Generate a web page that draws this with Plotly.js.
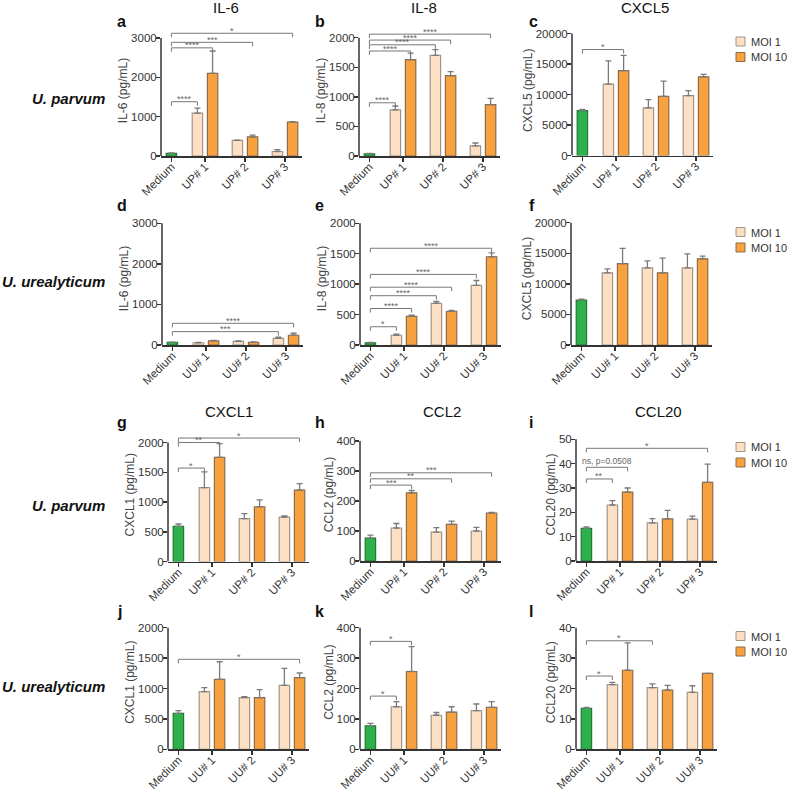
<!DOCTYPE html>
<html>
<head>
<meta charset="utf-8">
<script src="https://cdn.plot.ly/plotly-3.0.1.min.js"></script>
<style>
  html, body { margin: 0; padding: 0; background: #ffffff; }
  #chart { width: 788px; height: 792px; }
</style>
</head>
<body>
<div id="chart"></div>
<script>
// ---- group labels ----
const upGroups = ['Medium', 'UP# 1', 'UP# 2', 'UP# 3'];
const uuGroups = ['Medium', 'UU# 1', 'UU# 2', 'UU# 3'];
const moiNames = ['MOI 1', 'MOI 10'];

// ---- y tick values ----
const il6Ticks   = [0, 1000, 2000, 3000];
const il8Ticks   = [0, 500, 1000, 1500, 2000];
const cxcl5Ticks = [0, 5000, 10000, 15000, 20000];
const cxcl1Ticks = [0, 500, 1000, 1500, 2000];
const ccl2Ticks  = [0, 100, 200, 300, 400];
const ccl20UpTicks = [0, 10, 20, 30, 40, 50];
const ccl20UuTicks = [0, 10, 20, 30, 40];

// ---- values (pg/mL): medium [mean, sem]; strains #1..#3 mean and sem ----
// IL-6, U. parvum
const il6UpMedium = [68, 12];
const il6UpMoi1 = [1090, 395, 115];
const il6UpMoi1Err = [125, 8, 45];
const il6UpMoi10 = [2100, 485, 860];
const il6UpMoi10Err = [570, 45, 12];
// IL-8, U. parvum
const il8UpMedium = [38, 8];
const il8UpMoi1 = [780, 1700, 170];
const il8UpMoi1Err = [65, 100, 50];
const il8UpMoi10 = [1630, 1360, 870];
const il8UpMoi10Err = [110, 65, 105];
// CXCL5, U. parvum
const cxcl5UpMedium = [7350, 200];
const cxcl5UpMoi1 = [11700, 7800, 9800];
const cxcl5UpMoi1Err = [3800, 1350, 850];
const cxcl5UpMoi10 = [13900, 9700, 12900];
const cxcl5UpMoi10Err = [2500, 2500, 400];
// IL-6, U. urealyticum
const il6UuMedium = [65, 8];
const il6UuMoi1 = [55, 90, 165];
const il6UuMoi1Err = [8, 12, 30];
const il6UuMoi10 = [100, 65, 240];
const il6UuMoi10Err = [15, 10, 50];
// IL-8, U. urealyticum
const il8UuMedium = [35, 6];
const il8UuMoi1 = [160, 685, 980];
const il8UuMoi1Err = [18, 30, 80];
const il8UuMoi10 = [470, 555, 1450];
const il8UuMoi10Err = [20, 12, 65];
// CXCL5, U. urealyticum
const cxcl5UuMedium = [7350, 150];
const cxcl5UuMoi1 = [11800, 12600, 12600];
const cxcl5UuMoi1Err = [650, 1150, 2300];
const cxcl5UuMoi10 = [13300, 11800, 14100];
const cxcl5UuMoi10Err = [2500, 2400, 450];
// CXCL1, U. parvum
const cxcl1UpMedium = [590, 40];
const cxcl1UpMoi1 = [1240, 720, 745];
const cxcl1UpMoi1Err = [265, 85, 20];
const cxcl1UpMoi10 = [1750, 920, 1200];
const cxcl1UpMoi10Err = [230, 115, 110];
// CCL2, U. parvum
const ccl2UpMedium = [76, 10];
const ccl2UpMoi1 = [110, 96, 100];
const ccl2UpMoi1Err = [15, 15, 12];
const ccl2UpMoi10 = [227, 122, 160];
const ccl2UpMoi10Err = [8, 11, 2];
// CCL20, U. parvum
const ccl20UpMedium = [13.4, 0.6];
const ccl20UpMoi1 = [23, 15.7, 17.2];
const ccl20UpMoi1Err = [1.8, 1.7, 1.2];
const ccl20UpMoi10 = [28.3, 17.3, 32.3];
const ccl20UpMoi10Err = [1.7, 3.5, 7.5];
// CXCL1, U. urealyticum
const cxcl1UuMedium = [590, 45];
const cxcl1UuMoi1 = [950, 850, 1050];
const cxcl1UuMoi1Err = [65, 15, 280];
const cxcl1UuMoi10 = [1150, 850, 1180];
const cxcl1UuMoi10Err = [290, 130, 75];
// CCL2, U. urealyticum
const ccl2UuMedium = [77, 8];
const ccl2UuMoi1 = [140, 112, 127];
const ccl2UuMoi1Err = [17, 9, 22];
const ccl2UuMoi10 = [256, 122, 138];
const ccl2UuMoi10Err = [82, 18, 19];
// CCL20, U. urealyticum
const ccl20UuMedium = [13.5, 0.3];
const ccl20UuMoi1 = [21.3, 20.3, 18.7];
const ccl20UuMoi1Err = [0.7, 1.2, 2.2];
const ccl20UuMoi10 = [26, 19.5, 25];
const ccl20UuMoi10Err = [9, 1.5, 0];

// ---- significance vs Medium: target strain, target MOI, bracket height, label ----
const il6UpSigStrain = [1, 1, 2, 3];
const il6UpSigMoi = [1, 10, 10, 10];
const il6UpSigLevel = [1380, 2750, 2890, 3120];
const il6UpSigText = ['****', '****', '***', '*'];

const il8UpSigStrain = [1, 1, 2, 2, 3];
const il8UpSigMoi = [1, 10, 1, 10, 10];
const il8UpSigLevel = [900, 1775, 1880, 1960, 2060];
const il8UpSigText = ['****', '****', '****', '****', '****'];

const cxcl5UpSigStrain = [1];
const cxcl5UpSigMoi = [10];
const cxcl5UpSigLevel = [17370];
const cxcl5UpSigText = ['*'];

const il6UuSigStrain = [3, 3];
const il6UuSigMoi = [1, 10];
const il6UuSigLevel = [330, 535];
const il6UuSigText = ['***', '****'];

const il8UuSigStrain = [1, 1, 2, 2, 3, 3];
const il8UuSigMoi = [1, 10, 1, 10, 1, 10];
const il8UuSigLevel = [300, 600, 810, 950, 1160, 1590];
const il8UuSigText = ['*', '****', '****', '****', '****', '****'];

const cxcl1UpSigStrain = [1, 1, 3];
const cxcl1UpSigMoi = [1, 10, 10];
const cxcl1UpSigLevel = [1570, 2000, 2075];
const cxcl1UpSigText = ['*', '**', '*'];

const ccl2UpSigStrain = [1, 2, 3];
const ccl2UpSigMoi = [10, 10, 10];
const ccl2UpSigLevel = [253, 274, 294];
const ccl2UpSigText = ['***', '**', '***'];

const ccl20UpSigStrain = [1, 1, 3];
const ccl20UpSigMoi = [1, 10, 10];
const ccl20UpSigLevel = [33.7, 38.5, 46.3];
const ccl20UpSigText = ['**', 'ns, p=0.0508', '*'];

const cxcl1UuSigStrain = [3];
const cxcl1UuSigMoi = [10];
const cxcl1UuSigLevel = [1480];
const cxcl1UuSigText = ['*'];

const ccl2UuSigStrain = [1, 1];
const ccl2UuSigMoi = [1, 10];
const ccl2UuSigLevel = [175, 355];
const ccl2UuSigText = ['*', '*'];

const ccl20UuSigStrain = [1, 2];
const ccl20UuSigMoi = [1, 1];
const ccl20UuSigLevel = [24.1, 35.7];
const ccl20UuSigText = ['*', '*'];

const none = [];

// ---- styling ----
const W = 788, H = 792;
const FONT = 'Liberation Sans, Arial, Helvetica, sans-serif';
const INK = '#333333';
const GREEN = '#2eb04b', GREEN_LINE = '#1e7a34';
const PEACH = '#fde0c3', PEACH_LINE = '#a39486';
const ORANGE = '#f7a13f', ORANGE_LINE = '#8d6a48';
const ERR = '#7a7a7a', BRACKET = '#777777';

// category positions along each x axis (Medium sits closer to strain #1)
const catPos = [0.16, 1, 2, 3];
const pairOffset = 0.19;
const barW = 0.26;
const xRange = [-0.1, 3.42];
const PLOT_W = 140.8;

// panel frame geometry in pixels: y-axis x, zero line y, top tick y, top of plotting area
const panels = [
  {letter: 'a', yTitle: 'IL-6 (pg/mL)', groups: upGroups, ticks: il6Ticks,
   med: il6UpMedium, m1: il6UpMoi1, m1e: il6UpMoi1Err, m10: il6UpMoi10, m10e: il6UpMoi10Err,
   sig: [il6UpSigStrain, il6UpSigMoi, il6UpSigLevel, il6UpSigText],
   left: 161, zero: 156, topTick: 38, top: 25},
  {letter: 'b', yTitle: 'IL-8 (pg/mL)', groups: upGroups, ticks: il8Ticks,
   med: il8UpMedium, m1: il8UpMoi1, m1e: il8UpMoi1Err, m10: il8UpMoi10, m10e: il8UpMoi10Err,
   sig: [il8UpSigStrain, il8UpSigMoi, il8UpSigLevel, il8UpSigText],
   left: 359, zero: 156, topTick: 37.7, top: 25},
  {letter: 'c', yTitle: 'CXCL5 (pg/mL)', groups: upGroups, ticks: cxcl5Ticks,
   med: cxcl5UpMedium, m1: cxcl5UpMoi1, m1e: cxcl5UpMoi1Err, m10: cxcl5UpMoi10, m10e: cxcl5UpMoi10Err,
   sig: [cxcl5UpSigStrain, cxcl5UpSigMoi, cxcl5UpSigLevel, cxcl5UpSigText],
   left: 572, zero: 155.5, topTick: 33.5, top: 25, legendY: 41.5},
  {letter: 'd', yTitle: 'IL-6 (pg/mL)', groups: uuGroups, ticks: il6Ticks,
   med: il6UuMedium, m1: il6UuMoi1, m1e: il6UuMoi1Err, m10: il6UuMoi10, m10e: il6UuMoi10Err,
   sig: [il6UuSigStrain, il6UuSigMoi, il6UuSigLevel, il6UuSigText],
   left: 162, zero: 345, topTick: 223.3, top: 212},
  {letter: 'e', yTitle: 'IL-8 (pg/mL)', groups: uuGroups, ticks: il8Ticks,
   med: il8UuMedium, m1: il8UuMoi1, m1e: il8UuMoi1Err, m10: il8UuMoi10, m10e: il8UuMoi10Err,
   sig: [il8UuSigStrain, il8UuSigMoi, il8UuSigLevel, il8UuSigText],
   left: 360, zero: 345, topTick: 223.3, top: 212},
  {letter: 'f', yTitle: 'CXCL5 (pg/mL)', groups: uuGroups, ticks: cxcl5Ticks,
   med: cxcl5UuMedium, m1: cxcl5UuMoi1, m1e: cxcl5UuMoi1Err, m10: cxcl5UuMoi10, m10e: cxcl5UuMoi10Err,
   sig: [none, none, none, none],
   left: 571, zero: 345, topTick: 222.7, top: 212, legendY: 232},
  {letter: 'g', yTitle: 'CXCL1 (pg/mL)', groups: upGroups, ticks: cxcl1Ticks,
   med: cxcl1UpMedium, m1: cxcl1UpMoi1, m1e: cxcl1UpMoi1Err, m10: cxcl1UpMoi10, m10e: cxcl1UpMoi10Err,
   sig: [cxcl1UpSigStrain, cxcl1UpSigMoi, cxcl1UpSigLevel, cxcl1UpSigText],
   left: 168, zero: 561.5, topTick: 442.5, top: 428},
  {letter: 'h', yTitle: 'CCL2 (pg/mL)', groups: upGroups, ticks: ccl2Ticks,
   med: ccl2UpMedium, m1: ccl2UpMoi1, m1e: ccl2UpMoi1Err, m10: ccl2UpMoi10, m10e: ccl2UpMoi10Err,
   sig: [ccl2UpSigStrain, ccl2UpSigMoi, ccl2UpSigLevel, ccl2UpSigText],
   left: 360, zero: 561, topTick: 441, top: 428},
  {letter: 'i', yTitle: 'CCL20 (pg/mL)', groups: upGroups, ticks: ccl20UpTicks,
   med: ccl20UpMedium, m1: ccl20UpMoi1, m1e: ccl20UpMoi1Err, m10: ccl20UpMoi10, m10e: ccl20UpMoi10Err,
   sig: [ccl20UpSigStrain, ccl20UpSigMoi, ccl20UpSigLevel, ccl20UpSigText],
   left: 576, zero: 561, topTick: 439.3, top: 428, legendY: 447},
  {letter: 'j', yTitle: 'CXCL1 (pg/mL)', groups: uuGroups, ticks: cxcl1Ticks,
   med: cxcl1UuMedium, m1: cxcl1UuMoi1, m1e: cxcl1UuMoi1Err, m10: cxcl1UuMoi10, m10e: cxcl1UuMoi10Err,
   sig: [cxcl1UuSigStrain, cxcl1UuSigMoi, cxcl1UuSigLevel, cxcl1UuSigText],
   left: 168, zero: 749.3, topTick: 627.7, top: 615},
  {letter: 'k', yTitle: 'CCL2 (pg/mL)', groups: uuGroups, ticks: ccl2Ticks,
   med: ccl2UuMedium, m1: ccl2UuMoi1, m1e: ccl2UuMoi1Err, m10: ccl2UuMoi10, m10e: ccl2UuMoi10Err,
   sig: [ccl2UuSigStrain, ccl2UuSigMoi, ccl2UuSigLevel, ccl2UuSigText],
   left: 360, zero: 749.3, topTick: 627.7, top: 615},
  {letter: 'l', yTitle: 'CCL20 (pg/mL)', groups: uuGroups, ticks: ccl20UuTicks,
   med: ccl20UuMedium, m1: ccl20UuMoi1, m1e: ccl20UuMoi1Err, m10: ccl20UuMoi10, m10e: ccl20UuMoi10Err,
   sig: [ccl20UuSigStrain, ccl20UuSigMoi, ccl20UuSigLevel, ccl20UuSigText],
   left: 576, zero: 749.3, topTick: 627.7, top: 615, legendY: 636}
];

// panel titles (column headers for rows 1 and 3)
const headers = [
  {text: 'IL-6', x: 226, y: 7.5}, {text: 'IL-8', x: 424, y: 7.5}, {text: 'CXCL5', x: 645, y: 7.5},
  {text: 'CXCL1', x: 229, y: 411.5}, {text: 'CCL2', x: 442, y: 411.5}, {text: 'CCL20', x: 658, y: 411.5}
];
// species row labels
const rowLabels = [
  {text: 'U. parvum', y: 98.8}, {text: 'U. urealyticum', y: 281.8},
  {text: 'U. parvum', y: 505.8}, {text: 'U. urealyticum', y: 686}
];
const letterBaseline = [27, 211, 428, 617];
const letterLeft = [115, 313, 527];

const traces = [];
const shapes = [];
const annotations = [];
const layout = {
  width: W, height: H,
  margin: {l: 0, r: 0, t: 0, b: 0},
  paper_bgcolor: '#ffffff', plot_bgcolor: 'rgba(0,0,0,0)',
  font: {family: FONT, color: INK, size: 12},
  barmode: 'overlay',
  showlegend: false
};

const px2x = v => v / W;
const px2y = v => 1 - v / H;
const zeros = n => new Array(n).fill(0);

panels.forEach((p, i) => {
  const s = i === 0 ? '' : String(i + 1);
  const xr = 'x' + s, yr = 'y' + s;
  const tickMax = p.ticks[p.ticks.length - 1];
  const pxPerUnit = (p.zero - p.topTick) / tickMax;
  const rangeTop = (p.zero - p.top) / pxPerUnit;
  const strainPos = catPos.slice(1);

  layout['xaxis' + s] = {
    domain: [px2x(p.left), px2x(p.left + PLOT_W)], range: xRange, anchor: yr,
    tickmode: 'array', tickvals: catPos, ticktext: p.groups, tickangle: -45,
    ticks: 'outside', ticklen: 4, tickwidth: 1.5, tickcolor: INK, ticklabelstandoff: -6,
    showline: true, linecolor: INK, linewidth: 1.5,
    showgrid: false, zeroline: false, fixedrange: true,
    tickfont: {family: FONT, size: 11.5, color: INK}
  };
  layout['yaxis' + s] = {
    domain: [px2y(p.zero), px2y(p.top)], range: [0, rangeTop], anchor: xr,
    tickmode: 'array', tickvals: p.ticks, tickformat: 'd',
    ticks: 'outside', ticklen: 4, tickwidth: 1.5, tickcolor: INK, ticklabelstandoff: -3,
    showline: false, showgrid: false, zeroline: false, fixedrange: true,
    tickfont: {family: FONT, size: 11.5, color: INK},
    title: {text: p.yTitle, font: {family: FONT, size: 12, color: '#444444'}, standoff: 0}
  };

  // y-axis line only up to the top tick
  shapes.push({type: 'line', xref: xr + ' domain', yref: yr, x0: 0, x1: 0, y0: 0, y1: tickMax,
               line: {color: INK, width: 1.5}});

  const errStyle = {type: 'data', symmetric: false, color: ERR, thickness: 1.3, width: 3};

  traces.push({
    type: 'bar', xaxis: xr, yaxis: yr, name: 'Medium',
    x: [catPos[0]], y: [p.med[0]], width: [barW],
    marker: {color: GREEN, line: {color: GREEN_LINE, width: 1.2}},
    error_y: Object.assign({array: [p.med[1]], arrayminus: [0]}, errStyle),
    hoverinfo: 'skip'
  });
  traces.push({
    type: 'bar', xaxis: xr, yaxis: yr, name: moiNames[0],
    x: strainPos.map(c => c - pairOffset), y: p.m1, width: barW,
    marker: {color: PEACH, line: {color: PEACH_LINE, width: 1.2}},
    error_y: Object.assign({array: p.m1e, arrayminus: zeros(p.m1.length)}, errStyle),
    hoverinfo: 'skip'
  });
  traces.push({
    type: 'bar', xaxis: xr, yaxis: yr, name: moiNames[1],
    x: strainPos.map(c => c + pairOffset), y: p.m10, width: barW,
    marker: {color: ORANGE, line: {color: ORANGE_LINE, width: 1.2}},
    error_y: Object.assign({array: p.m10e, arrayminus: zeros(p.m10.length)}, errStyle),
    hoverinfo: 'skip'
  });

  // significance brackets from Medium to the compared bar
  const [sStrain, sMoi, sLevel, sText] = p.sig;
  sStrain.forEach((g, k) => {
    const x0 = catPos[0];
    const x1 = catPos[g] + (sMoi[k] === 1 ? -pairOffset : pairOffset);
    shapes.push({
      type: 'path', xref: xr, yref: yr, ysizemode: 'pixel', yanchor: sLevel[k],
      path: `M${x0},-4 L${x0},0 L${x1},0 L${x1},-4`,
      line: {color: BRACKET, width: 1}
    });
    const isWord = sText[k].length > 4;
    annotations.push({
      xref: xr, yref: yr, x: (x0 + x1) / 2, y: sLevel[k],
      text: sText[k], showarrow: false,
      xanchor: 'center', yanchor: isWord ? 'bottom' : 'middle', yshift: isWord ? -1 : 2.5,
      font: {family: FONT, size: isWord ? 8.5 : 9, color: '#666666'}
    });
  });

  // panel letter
  const col = i % 3, row = Math.floor(i / 3);
  annotations.push({
    xref: 'paper', yref: 'paper', x: px2x(letterLeft[col]), y: px2y(letterBaseline[row] - 5.5),
    xanchor: 'left', yanchor: 'middle', showarrow: false,
    text: '<b>' + p.letter + '</b>', font: {family: FONT, size: 16, color: '#111111'}
  });

  // key beside the right-hand panel of each row
  if (p.legendY !== undefined) {
    const keyFill = [PEACH, ORANGE], keyLine = [PEACH_LINE, ORANGE_LINE];
    moiNames.forEach((name, k) => {
      const cy = p.legendY + k * 15.5;
      shapes.push({type: 'rect', xref: 'paper', yref: 'paper',
        x0: px2x(736), x1: px2x(745), y0: px2y(cy + 4.5), y1: px2y(cy - 4.5),
        fillcolor: keyFill[k], line: {color: keyLine[k], width: 1}});
      annotations.push({xref: 'paper', yref: 'paper', x: px2x(748.5), y: px2y(cy + 0.5),
        xanchor: 'left', yanchor: 'middle', showarrow: false, text: name,
        font: {family: FONT, size: 11, color: INK}});
    });
  }
});

headers.forEach(h => annotations.push({
  xref: 'paper', yref: 'paper', x: px2x(h.x), y: px2y(h.y),
  xanchor: 'center', yanchor: 'middle', showarrow: false,
  text: h.text, font: {family: FONT, size: 15, color: '#111111'}
}));
rowLabels.forEach(r => annotations.push({
  xref: 'paper', yref: 'paper', x: px2x(107), y: px2y(r.y),
  xanchor: 'right', yanchor: 'middle', showarrow: false,
  text: '<b><i>' + r.text + '</i></b>', font: {family: FONT, size: 15, color: '#111111'}
}));

layout.shapes = shapes;
layout.annotations = annotations;

Plotly.newPlot('chart', traces, layout, {staticPlot: true, displayModeBar: false});
</script>
</body>
</html>
